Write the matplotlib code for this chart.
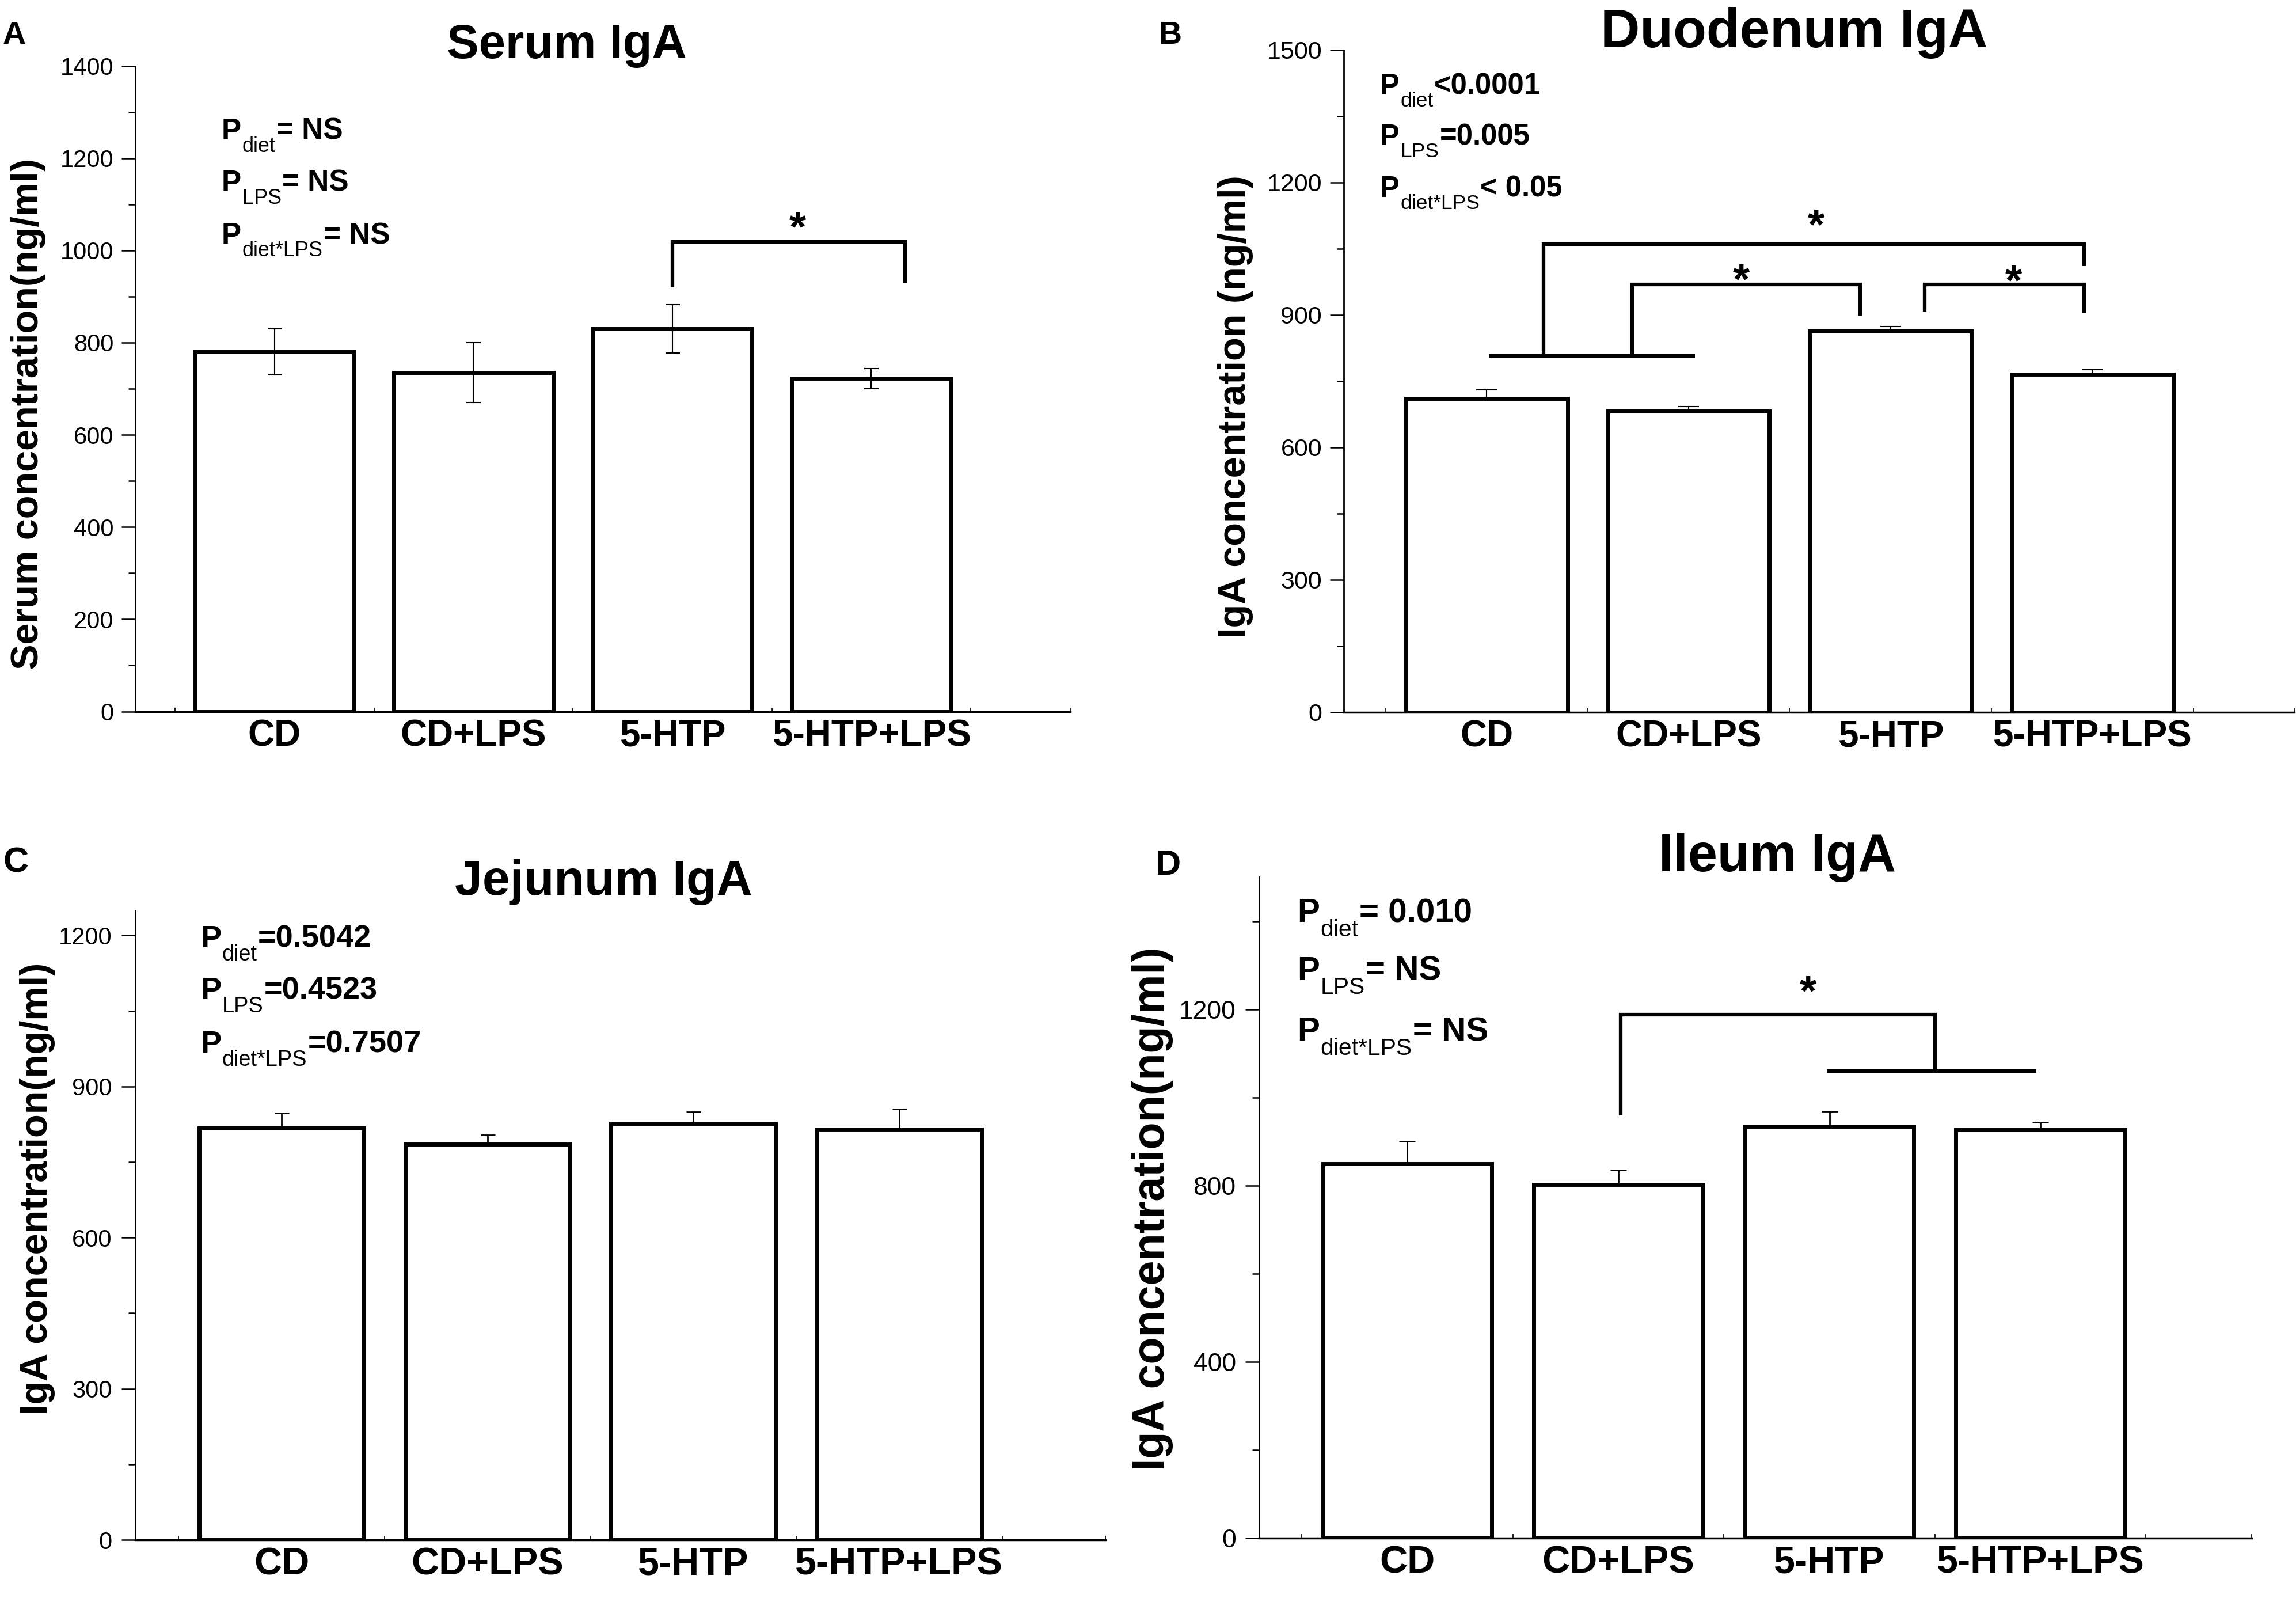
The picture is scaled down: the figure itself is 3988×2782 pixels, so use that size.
import numpy as np
import matplotlib.pyplot as plt
from matplotlib.ticker import MultipleLocator, FixedLocator

plt.rcParams['font.family'] = ['Liberation Sans', 'DejaVu Sans']

groups = ['CD', 'CD+LPS', '5-HTP', '5-HTP+LPS']
serum = [780, 735, 830, 722]
serum_err = [50, 65, 52, 22]
duod = [711, 682, 863, 766]
duod_err = [20, 11, 11, 10]
jej = [817, 785, 827, 815]
jej_err = [30, 19, 23, 40]
ileum = [850, 803, 935, 927]
ileum_err = [50, 32, 33, 17]

p_serum = [('diet', '= NS'), ('LPS', '= NS'), ('diet*LPS', '= NS')]
p_duod = [('diet', '<0.0001'), ('LPS', '=0.005'), ('diet*LPS', '< 0.05')]
p_jej = [('diet', '=0.5042'), ('LPS', '=0.4523'), ('diet*LPS', '=0.7507')]
p_ileum = [('diet', '= 0.010'), ('LPS', '= NS'), ('diet*LPS', '= NS')]

# significance brackets (x in group units, y in ng/ml)
br_serum = [[(3.0, 920), (3.0, 1018), (4.17, 1018), (4.17, 928)]]
br_duod = [[(1.01, 808), (2.03, 808)],
           [(1.28, 808), (1.28, 1061), (3.96, 1061), (3.96, 1011)],
           [(1.72, 808), (1.72, 969), (2.85, 969), (2.85, 899)],
           [(3.17, 908), (3.17, 969), (3.96, 969), (3.96, 904)]]
br_ileum = [[(2.01, 960), (2.01, 1188), (3.50, 1188), (3.50, 1060)],
            [(2.99, 1060), (3.98, 1060)]]
st_serum = [(3.63, 1020)]
st_duod = [(2.63, 1073), (2.26, 949), (3.61, 946)]
st_ileum = [(2.90, 1210)]

W, H = 3988, 2782
fig = plt.figure(figsize=(W / 100, H / 100), dpi=100)


def fx(x):
    return x / W


def fy(y):
    return 1 - y / H


def panel(left, right, top, bottom, vals, err, sym, xlim, ylim, major, minor,
          ticksize, xsize, cap, elw, ypad=10):
    ax = fig.add_axes([fx(left), fy(bottom), fx(right - left), (bottom - top) / H])
    x = np.arange(1, 5)
    ax.bar(x, vals, width=0.8, color='white', edgecolor='black', linewidth=5, zorder=2)
    if sym:
        yerr = err
    else:
        yerr = [np.zeros(4), err]
    ax.errorbar(x, vals, yerr=yerr, fmt='none', ecolor='black', elinewidth=elw,
                capsize=cap, capthick=elw, zorder=3)
    ax.set_xlim(*xlim)
    ax.set_ylim(*ylim)
    ax.spines['top'].set_visible(False)
    ax.spines['right'].set_visible(False)
    ax.spines['left'].set_linewidth(2)
    ax.spines['bottom'].set_linewidth(2.5)
    ax.set_xticks(x, groups, fontweight='bold', fontsize=xsize)
    ax.xaxis.set_minor_locator(FixedLocator([0.5, 1.5, 2.5, 3.5, 4.5, 5.0]))
    ax.tick_params(axis='x', which='both', direction='in', length=5, width=1.2, pad=9)
    ax.set_yticks(major)
    ax.yaxis.set_minor_locator(MultipleLocator(minor))
    ax.tick_params(axis='y', which='major', direction='out', length=17, width=1.8,
                   pad=ypad, labelsize=ticksize)
    ax.tick_params(axis='y', which='minor', direction='out', length=9, width=1.8)
    return ax


def pblock(ax, x, ys, items, size):
    for y, (sub, rest) in zip(ys, items):
        t1 = ax.text(fx(x), fy(y), 'P', transform=fig.transFigure, fontsize=size,
                     fontweight='bold', va='baseline', ha='left')
        t2 = ax.annotate(sub, xy=(1, fy(y)), xycoords=(t1, 'figure fraction'),
                         xytext=(1, -0.42 * size), textcoords='offset points',
                         fontsize=size * 0.7, va='baseline', ha='left')
        ax.annotate(rest, xy=(1, fy(y)), xycoords=(t2, 'figure fraction'),
                    xytext=(1, 0), textcoords='offset points', fontsize=size,
                    fontweight='bold', va='baseline', ha='left')


def brackets(ax, paths, stars):
    for p in paths:
        xs = [q[0] for q in p]
        ys = [q[1] for q in p]
        ax.plot(xs, ys, color='black', lw=4.5, solid_joinstyle='miter',
                solid_capstyle='butt', clip_on=False, zorder=4)
    for sx, sy in stars:
        ax.text(sx, sy, '*', ha='center', va='baseline', fontsize=54, fontweight='bold')


# A
axA = panel(235, 1859, 114.5, 1235.5, serum, serum_err, True, (0.30, 5.0), (0, 1400),
            np.arange(0, 1401, 200), 100, 30, 46, 9, 1.5)
brackets(axA, br_serum, st_serum)
pblock(axA, 385, [242, 332, 423], p_serum, 37)
fig.text(fx(984), fy(101), 'Serum IgA', ha='center', va='baseline', fontsize=60, fontweight='bold')
fig.text(fx(49), fy(719), 'Serum concentration(ng/ml)', rotation=90, ha='center', va='center',
         fontsize=48, fontweight='bold')
fig.text(fx(5), fy(76), 'A', fontsize=40, fontweight='bold', va='baseline')

# B
axB = panel(2333.5, 3985, 87, 1237, duod, duod_err, False, (0.29, 5.0), (0, 1500),
            np.arange(0, 1501, 300), 150, 31, 46, 13, 1.5)
brackets(axB, br_duod, st_duod)
pblock(axB, 2397, [164, 252, 342], p_duod, 36.5)
fig.text(fx(3116), fy(82), 'Duodenum IgA', ha='center', va='baseline', fontsize=68, fontweight='bold')
fig.text(fx(2146), fy(706), 'IgA concentration (ng/ml)', rotation=90, ha='center', va='center',
         fontsize=48, fontweight='bold')
fig.text(fx(2012), fy(76), 'B', fontsize=40, fontweight='bold', va='baseline')

# C
axC = panel(235, 1919.5, 1580.7, 2674, jej, jej_err, False, (0.29, 5.0), (0, 1250),
            np.arange(0, 1201, 300), 150, 30, 48, 9, 2, ypad=12)
pblock(axC, 348, [1645, 1735, 1828], p_jej, 39)
fig.text(fx(1048), fy(1554), 'Jejunum IgA', ha='center', va='baseline', fontsize=62, fontweight='bold')
fig.text(fx(65), fy(2064), 'IgA concentration(ng/ml)', rotation=90, ha='center', va='center',
         fontsize=48, fontweight='bold')
fig.text(fx(6), fy(1515), 'C', fontsize=44, fontweight='bold', va='baseline')

# D
axD = panel(2187, 3910.7, 1523.4, 2671, ileum, ileum_err, False, (0.298, 5.0), (0, 1500),
            np.arange(0, 1201, 400), 200, 32, 48, 10, 2, ypad=12)
brackets(axD, br_ileum, st_ileum)
pblock(axD, 2253, [1601, 1702, 1807], p_ileum, 42)
fig.text(fx(3087), fy(1513), 'Ileum IgA', ha='center', va='baseline', fontsize=66, fontweight='bold')
fig.text(fx(2002), fy(2099), 'IgA concentration(ng/ml)', rotation=90, ha='center', va='center',
         fontsize=55.5, fontweight='bold')
fig.text(fx(2007), fy(1519), 'D', fontsize=44, fontweight='bold', va='baseline')

fig.savefig('out.png', dpi=100, facecolor='white')
